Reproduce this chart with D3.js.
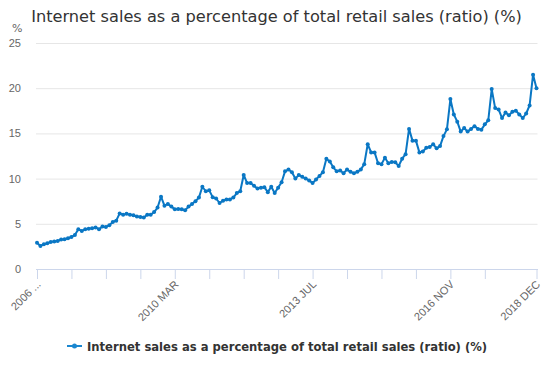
<!DOCTYPE html>
<html>
<head>
<meta charset="utf-8">
<script src="https://cdn.jsdelivr.net/npm/d3@7"></script>
<style>
  html, body { margin: 0; padding: 0; background: #fff; }
  svg { display: block; font-family: "DejaVu Sans", sans-serif; }
</style>
</head>
<body>
<div id="chart"></div>
<script>
// ---- Data (monthly, Nov 2006 – Dec 2018) ----
const seriesName = "Internet sales as a percentage of total retail sales (ratio) (%)";
const startYear = 2006;
const startMonthIndex = 10; // November
const monthNames = ["JAN","FEB","MAR","APR","MAY","JUN","JUL","AUG","SEP","OCT","NOV","DEC"];

const values = [
  2.9, 2.55, 2.75, 2.85, 3.0, 3.05, 3.1, 3.25, 3.3, 3.4, 3.55, 3.75,
  4.4, 4.2, 4.4, 4.45, 4.5, 4.6, 4.4, 4.7, 4.65, 4.85, 5.2, 5.35,
  6.15, 6.0, 6.1, 6.0, 5.95, 5.8, 5.75, 5.7, 6.0, 6.0, 6.3, 6.8,
  8.0, 7.0, 7.2, 6.9, 6.6, 6.65, 6.6, 6.5, 6.9, 7.2, 7.5, 7.9,
  9.1, 8.6, 8.7, 7.95, 7.8, 7.3, 7.55, 7.7, 7.7, 7.9, 8.4, 8.6,
  10.4, 9.5, 9.5, 9.2, 8.9, 9.0, 9.05, 8.5, 9.1, 8.4, 9.0, 9.6,
  10.8, 11.0, 10.7, 10.0, 10.4, 10.2, 10.0, 9.8, 9.5, 9.9, 10.3, 10.7,
  12.2, 11.9, 11.25, 10.8, 10.9, 10.6, 11.0, 10.75, 10.6, 10.75, 11.0, 11.6,
  13.8, 12.9, 12.9, 11.7, 11.6, 12.3, 11.7, 11.85, 11.8, 11.4, 12.2, 12.7,
  15.5, 14.2, 14.2, 12.9, 13.0, 13.4, 13.5, 13.8, 13.35, 13.6, 14.7, 15.45,
  18.8, 17.1, 16.3, 15.2, 15.6, 15.2, 15.5, 15.8, 15.5, 15.4, 16.0, 16.45,
  19.9, 17.8, 17.65, 16.7, 17.3, 17.0, 17.4, 17.5, 17.1, 16.7, 17.2, 18.1,
  21.5, 20.0
];

const categories = values.map((_, i) => {
  const m = startMonthIndex + i;
  return (startYear + Math.floor(m / 12)) + " " + monthNames[m % 12];
});

const yTicks = [0, 5, 10, 15, 20, 25];
const tickCategories = ["2006 NOV","2007 SEP","2008 JUL","2009 MAY","2010 MAR","2011 JAN","2011 NOV",
  "2012 SEP","2013 JUL","2014 MAY","2015 MAR","2016 JAN","2016 NOV","2017 SEP","2018 DEC"];
const labelledTicks = ["2006 NOV","2010 MAR","2013 JUL","2016 NOV","2018 DEC"];
const labelText = {"2006 NOV": "2006 ...", "2010 MAR": "2010 MAR", "2013 JUL": "2013 JUL",
  "2016 NOV": "2016 NOV", "2018 DEC": "2018 DEC"};

// ---- Layout ----
const W = 553, H = 369;
const plot = { left: 37, right: 536.5, top: 43, bottom: 269 };
const lineColor = "#0a77c4";

const svg = d3.select("#chart").append("svg").attr("width", W).attr("height", H);

const x = d3.scalePoint().domain(categories).range([plot.left, plot.right]);
const y = d3.scaleLinear().domain([0, 25]).range([plot.bottom, plot.top]);

// Title
svg.append("text")
  .attr("x", W / 2).attr("y", 22)
  .attr("text-anchor", "middle")
  .attr("fill", "#333333")
  .style("font-size", "16.2px")
  .text(seriesName);

// Gridlines + y labels
const yAxis = d3.axisLeft(y).tickValues(yTicks).tickSize(-(plot.right - plot.left + 2)).tickPadding(16);
const gy = svg.append("g").attr("transform", `translate(${plot.left - 1},0)`).call(yAxis);
gy.select(".domain").remove();
gy.selectAll(".tick line").attr("stroke", "#e6e6e6");
gy.selectAll(".tick text").attr("fill", "#666666").style("font-size", "11px").attr("x", -15);
gy.selectAll(".tick").filter(d => d === 0).select("line").remove();

// y-axis unit
svg.append("text").attr("x", 12).attr("y", 32).attr("fill", "#666666")
  .style("font-size", "11px").text("%");

// x axis
const xAxis = d3.axisBottom(x).tickValues(tickCategories).tickSize(10).tickSizeOuter(0)
  .tickFormat(d => labelledTicks.includes(d) ? labelText[d] : "");
const gx = svg.append("g").attr("transform", `translate(0,${plot.bottom})`).call(xAxis);
gx.select(".domain").attr("stroke", "#ccd6eb").attr("d", `M${plot.left - 1},0.5H${plot.right + 1.5}`);
gx.selectAll(".tick line").attr("stroke", "#ccd6eb");
gx.selectAll(".tick text")
  .attr("fill", "#666666")
  .style("font-size", "11px")
  .attr("text-anchor", "end")
  .attr("y", 0).attr("dy", 0)
  .attr("transform", "translate(4,16) rotate(-45)");

// Line
const line = d3.line().x((d, i) => x(categories[i])).y(d => y(d));
svg.append("path").datum(values)
  .attr("fill", "none").attr("stroke", lineColor).attr("stroke-width", 2)
  .attr("stroke-linejoin", "round").attr("d", line);

svg.append("g").selectAll("circle").data(values).join("circle")
  .attr("cx", (d, i) => x(categories[i])).attr("cy", d => y(d))
  .attr("r", 2).attr("fill", lineColor);

// Legend
const lg = svg.append("g").attr("transform", "translate(0,346)");
lg.append("line").attr("x1", 67).attr("x2", 82).attr("y1", 0).attr("y2", 0)
  .attr("stroke", "#1b87d0").attr("stroke-width", 2);
lg.append("circle").attr("cx", 74.5).attr("cy", 0).attr("r", 2.5).attr("fill", "#1b87d0");
lg.append("text").attr("x", 87).attr("y", 4.5).attr("fill", "#333333")
  .style("font-size", "11.6px").style("font-weight", "bold")
  .text(seriesName);
</script>
</body>
</html>
